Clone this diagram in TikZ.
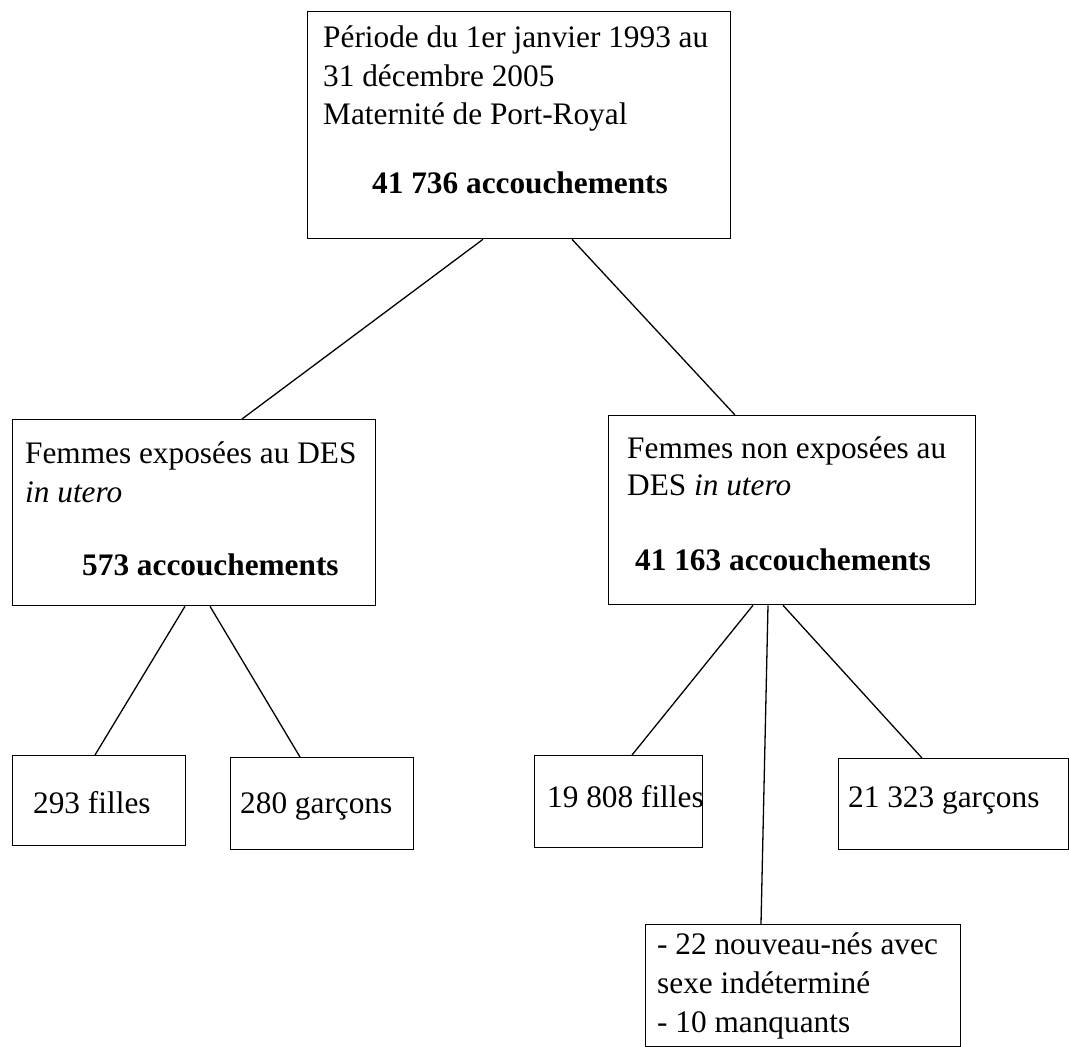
\documentclass[tikz,border=0pt]{standalone}
\usepackage{fontspec}
\setmainfont{Liberation Serif}
\begin{document}
\begin{tikzpicture}[x=1pt,y=-1pt,
  box/.style={draw=black,line width=1.3pt,rectangle,inner sep=0pt,anchor=north west,fill=none},
  txt/.style={anchor=base west,inner sep=0pt,font=\fontsize{31.3}{38}\selectfont},
  btxt/.style={txt,font=\fontsize{31.3}{38}\selectfont\bfseries},
  link/.style={draw=black,line width=1.3pt}]
\useasboundingbox (0,0) rectangle (1069,1047);
% boxes
\node[box,minimum width=423pt,minimum height=227pt] (top) at (307,11) {};
\node[box,minimum width=363pt,minimum height=186pt] (L) at (12,419) {};
\node[box,minimum width=367pt,minimum height=189pt] (R) at (608,415) {};
\node[box,minimum width=173pt,minimum height=90pt] (LF) at (12,755) {};
\node[box,minimum width=183pt,minimum height=92pt] (LG) at (230,757) {};
\node[box,minimum width=168pt,minimum height=92pt] (RF) at (534,755) {};
\node[box,minimum width=230pt,minimum height=91pt] (RG) at (838,758) {};
\node[box,minimum width=315pt,minimum height=122pt] (RX) at (645,924) {};
% texts
\node[txt] (t1) at (323,47) {Période du 1er janvier 1993 au};
\node[txt] (t2) at (323,86) {31 décembre 2005};
\node[txt] (t3) at (323,124) {Maternité de Port-Royal};
\node[btxt] (t4) at (372,193) {41 736 accouchements};
\node[txt] (l1) at (25,463) {Femmes exposées au DES};
\node[txt] (l2) at (25,502) {\itshape in utero};
\node[btxt] (l3) at (82,575) {573 accouchements};
\node[txt] (r1) at (627,458) {Femmes non exposées au};
\node[txt] (r2) at (627,495) {DES \textit{in utero}};
\node[btxt] (r3) at (635,570) {41 163 accouchements};
\node[txt] (lf) at (33,813) {293 filles};
\node[txt] (lg) at (240,813) {280 garçons};
\node[txt] (rf) at (547,807) {19 808 filles};
\node[txt] (rg) at (848,807) {21 323 garçons};
\node[txt] (x1) at (657,954) {- 22 nouveau-nés avec};
\node[txt] (x2) at (657,993) {sexe indéterminé};
\node[txt] (x3) at (657,1032) {- 10 manquants};
% connectors
\draw[link] ([xshift=176pt]top.south west) -- ([xshift=230pt]L.north west);
\draw[link] ([xshift=265pt]top.south west) -- ([xshift=127pt]R.north west);
\draw[link] ([xshift=173pt]L.south west) -- ([xshift=83pt]LF.north west);
\draw[link] ([xshift=198pt]L.south west) -- ([xshift=70pt]LG.north west);
\draw[link] ([xshift=145pt]R.south west) -- ([xshift=98pt]RF.north west);
\draw[link] ([xshift=160pt]R.south west) -- ([xshift=116pt]RX.north west);
\draw[link] ([xshift=175pt]R.south west) -- ([xshift=84pt]RG.north west);
\end{tikzpicture}
\end{document}
